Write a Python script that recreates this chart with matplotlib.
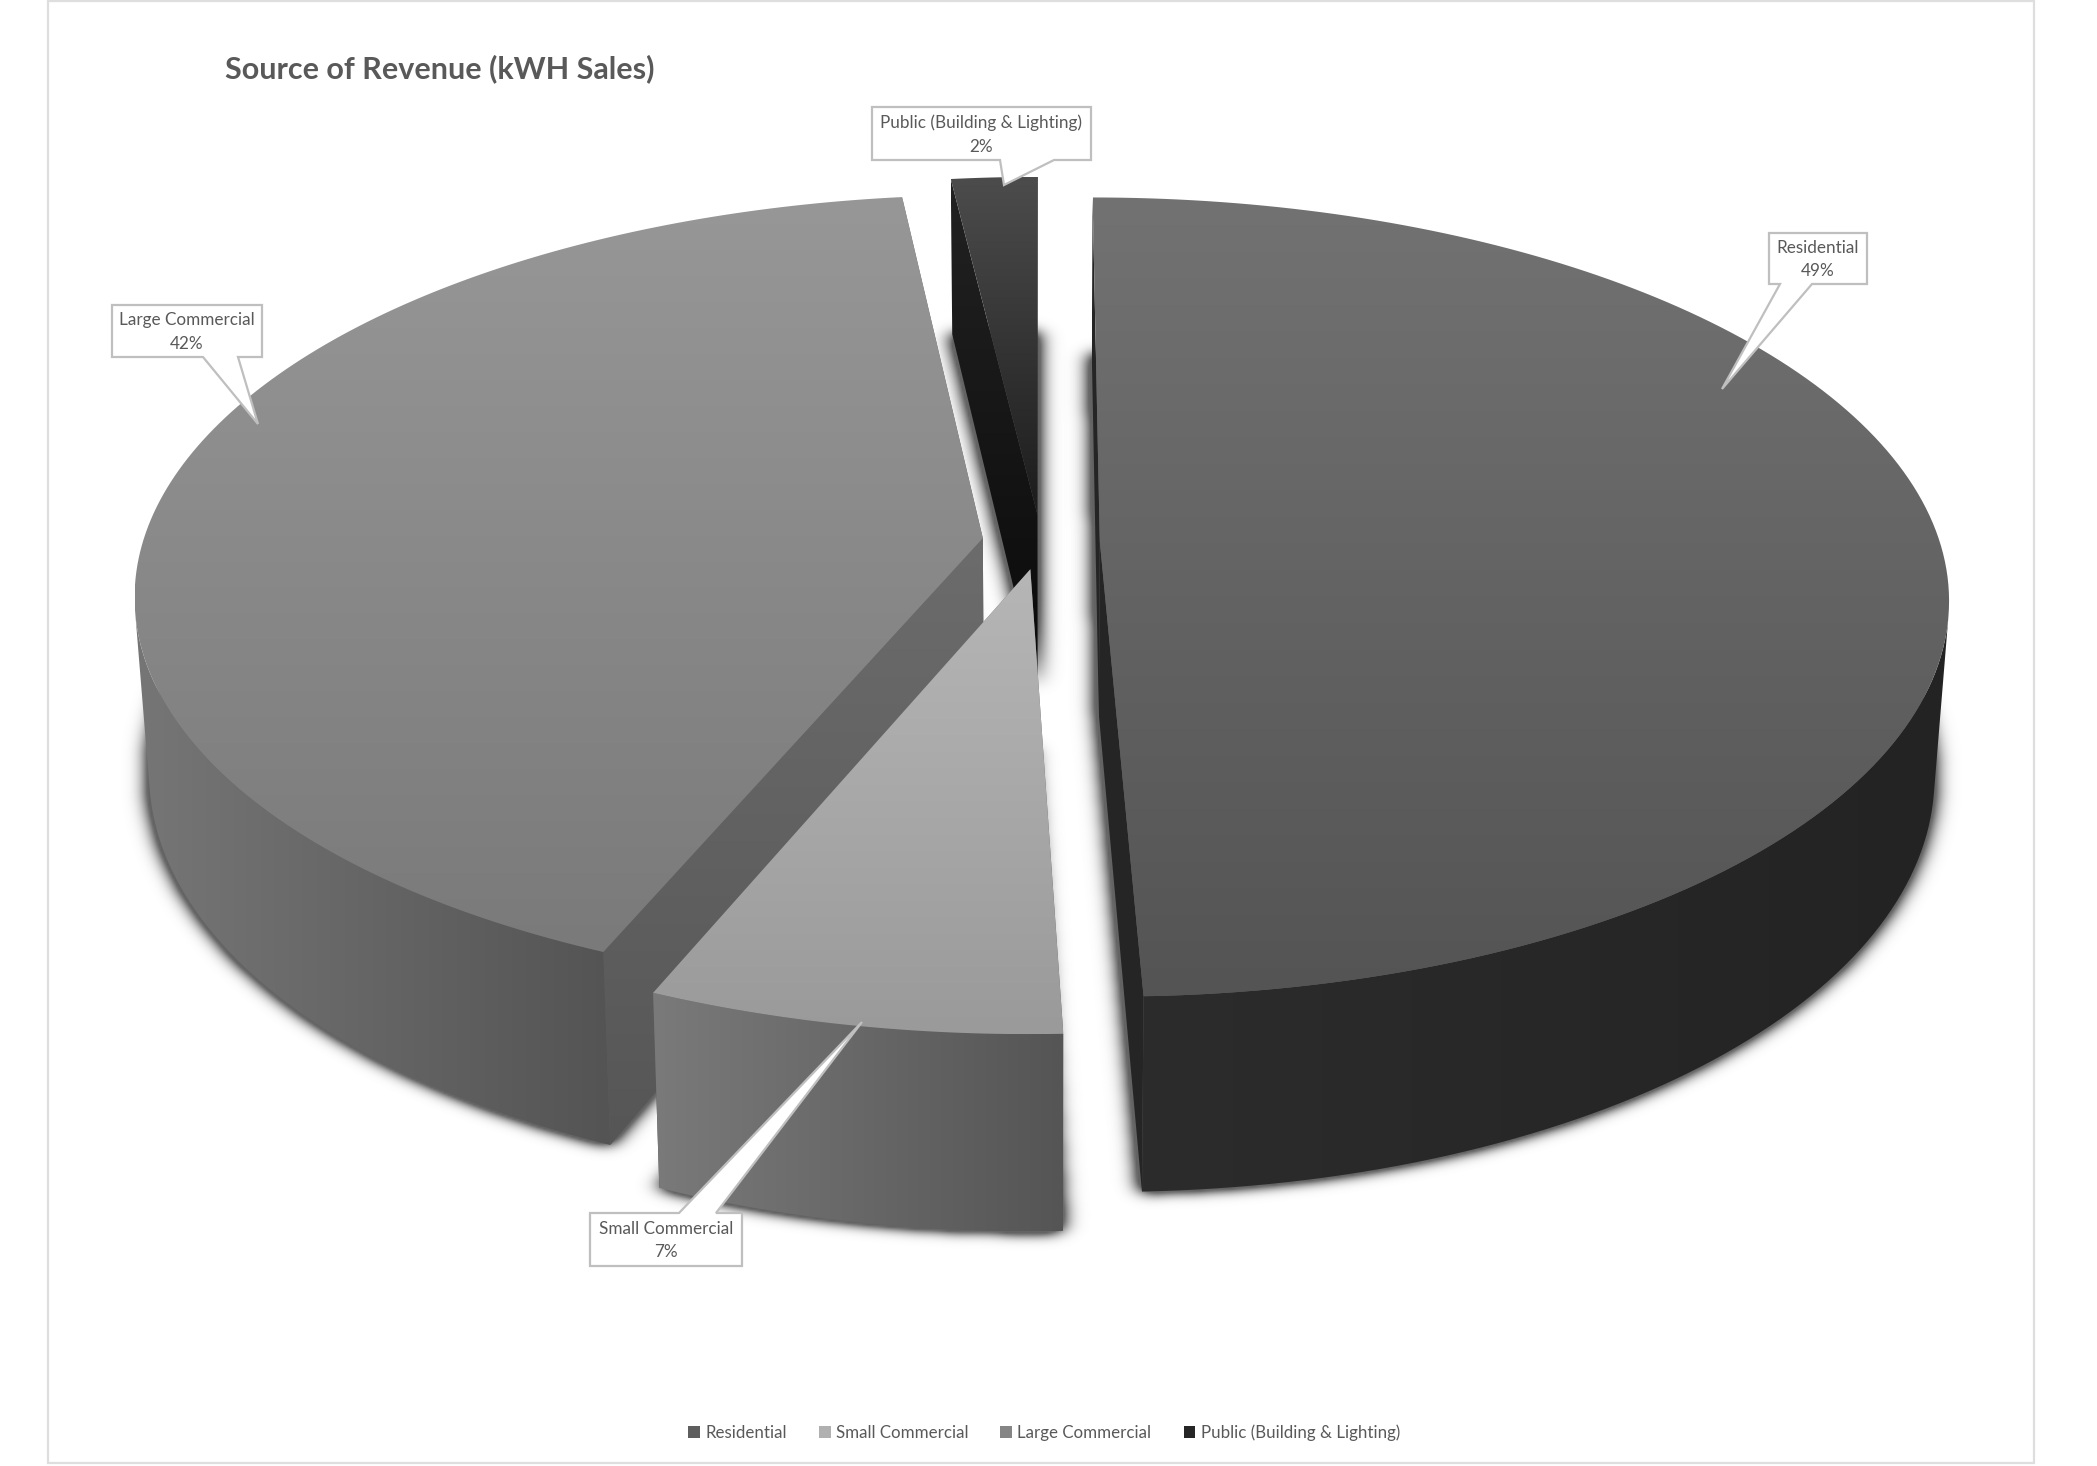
"""Source of revenue as an exploded 3D pie, projected by hand onto a pixel canvas."""
import numpy as np
import matplotlib
matplotlib.use("Agg")
import matplotlib.pyplot as plt
from matplotlib.patches import Patch, PathPatch, Polygon, Rectangle
from matplotlib.path import Path

plt.rcParams["font.family"] = ["Lato", "DejaVu Sans"]

TITLE = "Source of Revenue (kWH Sales)"
CATEGORIES = ["Residential", "Small Commercial", "Large Commercial", "Public (Building & Lighting)"]
SHARES = [49.44, 6.86, 41.80, 1.90]
PERCENT_LABELS = ["49%", "7%", "42%", "2%"]

W, H = 2097, 1466
TEXT = "#595959"
EDGE = "#bfbfbf"

# projection of the pie plane
VP_X, CY = 1041.0, 542.0
RX, RY = 840.0, 392.0
PERSP = 0.139
EXPLODE = 0.07
DEPTH_X = 0.984
DEPTH_Y, DEPTH_OFF = 1.049, 173.0

# gradients: (start colour, end colour, "v" or "h")
TOP_STYLE = [("#727272", "#545454", "v"), ("#b6b6b6", "#9a9a9a", "v"),
             ("#979797", "#7a7a7a", "v"), ("#4c4c4c", "#1c1c1c", "v")]
RIM_STYLE = [("#2c2c2c", "#232323", "h"), ("#7a7a7a", "#555555", "h"),
             ("#767676", "#545454", "h"), ("#2a2a2a", "#111111", "h")]
FACE_STYLE = [("#252525", "#262626", "v"), ("#6a6a6a", "#5a5a5a", "v"),
              ("#6c6c6c", "#565656", "v"), ("#222222", "#0a0a0a", "v")]
LEGEND_COLORS = ["#5e5e5e", "#b0b0b0", "#858585", "#262626"]

# callouts: box (x0, y0, x1, y1), base of the pointer on the box, pointer tip
CALLOUTS = [
    ((1769, 233, 1867, 284), (1780, 284), (1812, 284), (1722, 389)),
    ((590, 1213, 742, 1266), (679, 1213), (716, 1213), (862, 1022)),
    ((112, 305, 262, 357), (203, 357), (238, 357), (258, 424)),
    ((872, 107, 1091, 160), (1000, 160), (1054, 160), (1004, 185)),
]


def project(theta, center):
    u = np.sin(theta) + center[0]
    v = np.cos(theta) + center[1]
    return project_uv(u, v)


def project_uv(u, v):
    w = 1 + PERSP * v
    return np.column_stack([VP_X + RX * u / w, CY - RY * v / w])


def drop(pts):
    out = np.array(pts, dtype=float)
    out[:, 0] = VP_X + DEPTH_X * (out[:, 0] - VP_X)
    out[:, 1] = out[:, 1] * DEPTH_Y + DEPTH_OFF - CY * (DEPTH_Y - 1)
    return out


def gradient_fill(ax, path, style, zorder):
    c0, c1, direction = style
    a = np.array(matplotlib.colors.to_rgb(c0))
    b = np.array(matplotlib.colors.to_rgb(c1))
    t = np.linspace(0, 1, 256)[:, None]
    ramp = a + (b - a) * t
    img = ramp[:, None, :] if direction == "v" else ramp[None, :, :]
    x0, y0 = path.vertices.min(axis=0)
    x1, y1 = path.vertices.max(axis=0)
    im = ax.imshow(img, extent=(x0, x1, y1, y0), aspect="auto", interpolation="bilinear", zorder=zorder)
    im.set_clip_path(PathPatch(path, transform=ax.transData))


def rim_path(arc):
    # one quad per arc segment, keeping only those that face the viewer
    low = drop(arc)
    verts, codes = [], []
    for k in range(len(arc) - 1):
        quad = np.array([arc[k], arc[k + 1], low[k + 1], low[k]])
        x, y = quad[:, 0], quad[:, 1]
        if np.dot(x, np.roll(y, -1)) - np.dot(y, np.roll(x, -1)) >= 0:
            continue
        verts.extend(list(quad) + [quad[0]])
        codes.extend([Path.MOVETO, Path.LINETO, Path.LINETO, Path.LINETO, Path.CLOSEPOLY])
    if not verts:
        return None
    return Path(np.array(verts), codes)


def soft_shadow(ax, poly, zorder):
    step = 2
    xs, ys = np.meshgrid(np.arange(0, W, step), np.arange(0, H, step))
    pts = np.column_stack([xs.ravel() + 1, ys.ravel() + 1])
    mask = Path(poly).contains_points(pts).reshape(xs.shape).astype(float)
    fy = np.fft.fftfreq(mask.shape[0])[:, None]
    fx = np.fft.rfftfreq(mask.shape[1])[None, :]
    sigma_x, sigma_y = 5.0, 3.2
    kernel = np.exp(-2 * np.pi ** 2 * ((sigma_x * fx) ** 2 + (sigma_y * fy) ** 2))
    blur = np.fft.irfft2(np.fft.rfft2(mask) * kernel, s=mask.shape)
    rgba = np.zeros(mask.shape + (4,))
    rgba[..., :3] = 0.36
    rgba[..., 3] = np.clip(blur * 2.5, 0, 1) * 0.95
    ax.imshow(rgba, extent=(0, W, H, 0), aspect="auto", interpolation="bilinear", zorder=zorder)


def draw_slice(ax, i, start, stop, zorder):
    mid = (start + stop) / 2
    center = (EXPLODE * np.sin(mid), EXPLODE * np.cos(mid))
    theta = np.linspace(start, stop, 160)
    arc = project(theta, center)
    apex = project_uv(np.array([center[0]]), np.array([center[1]]))
    top = np.vstack([apex, arc])
    soft_shadow(ax, drop(top), zorder)
    # the two cut faces (start face last), then the outer rim, then the top
    for n, edge in enumerate((arc[-1:], arc[:1])):
        upper = np.vstack([apex, edge])
        face = np.vstack([upper, drop(upper)[::-1]])
        gradient_fill(ax, Path(np.vstack([face, face[:1]]), closed=True), FACE_STYLE[i], zorder + 0.1 + n * 0.01)
    rim = rim_path(arc)
    if rim is not None:
        gradient_fill(ax, rim, RIM_STYLE[i], zorder + 0.2)
    gradient_fill(ax, Path(np.vstack([top, top[:1]]), closed=True), TOP_STYLE[i], zorder + 0.3)


fig = plt.figure(figsize=(W / 100, H / 100), dpi=100, facecolor="white")
ax = fig.add_axes([0, 0, 1, 1])
ax.axis("off")

ax.add_patch(Rectangle((48, 1), 1986, 1462, fc="white", ec="#dedede", lw=1.6, zorder=0))

angles = np.radians(np.cumsum([0] + SHARES) * 3.6)
# back slices first, so the small one ends up on top of the public one
for order, i in enumerate([3, 0, 2, 1]):
    draw_slice(ax, i, angles[i], angles[i + 1], zorder=2 + order)

for (name, pct, (box, b0, b1, tip)) in zip(CATEGORIES, PERCENT_LABELS, CALLOUTS):
    x0, y0, x1, y1 = box
    if b0[1] == y1:
        outline = [(x0, y0), (x1, y0), (x1, y1), b1, tip, b0, (x0, y1)]
    else:
        outline = [(x0, y0), b0, tip, b1, (x1, y0), (x1, y1), (x0, y1)]
    ax.add_patch(Polygon(outline, closed=True, fc="white", ec=EDGE, lw=1.6, zorder=10))
    ax.text((x0 + x1) / 2, (y0 + y1) / 2 + 1, f"{name}\n{pct}", ha="center", va="center",
            fontsize=12.3, color=TEXT, linespacing=1.58, zorder=11)

ax.text(225, 69, TITLE, fontsize=22, fontweight="bold", color=TEXT, va="center", ha="left", zorder=11)

handles = [Patch(fc=c, ec="none", label=n) for c, n in zip(LEGEND_COLORS, CATEGORIES)]
ax.legend(handles=handles, loc="center", bbox_to_anchor=(1044 / W, 1 - 1433 / H), ncol=4, frameon=False,
          fontsize=12.2, labelcolor=TEXT, handlelength=0.7, handleheight=0.7, handletextpad=0.3,
          columnspacing=1.9, borderpad=0)

ax.set_xlim(0, W)
ax.set_ylim(H, 0)
fig.savefig("out.png", dpi=100, facecolor="white")
